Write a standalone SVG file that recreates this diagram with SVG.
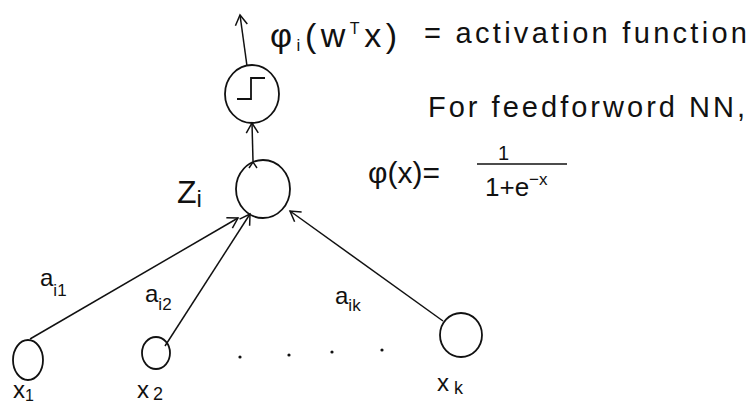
<svg xmlns="http://www.w3.org/2000/svg" width="750" height="407" viewBox="0 0 750 407">
<defs>
<style>
.n{fill:none;stroke:#111;stroke-width:1.8}
.c{fill:none;stroke:#111;stroke-width:1.5}
.t{font-family:"Liberation Sans",Arial,sans-serif;fill:#111}
</style>
<marker id="ah" markerWidth="14" markerHeight="14" refX="12" refY="7" orient="auto" markerUnits="userSpaceOnUse">
<path d="M2,1 L12,7 L2,13" fill="none" stroke="#111" stroke-width="1.5"/>
</marker>
</defs>
<rect width="750" height="407" fill="#fff"/>
<g id="connectors">
<line class="c" x1="247" y1="66" x2="240" y2="15" marker-end="url(#ah)"/>
<line class="c" x1="253" y1="161" x2="252" y2="123" marker-end="url(#ah)"/>
<path class="c" d="M249,168 L253,162 L257,168"/>
<line class="c" x1="30" y1="339" x2="238" y2="218" marker-end="url(#ah)"/>
<line class="c" x1="165" y1="346" x2="250" y2="214" marker-end="url(#ah)"/>
<line class="c" x1="443" y1="321" x2="290" y2="211" marker-end="url(#ah)"/>
</g>
<g id="node-activation">
<ellipse class="n" cx="252" cy="94" rx="27" ry="29"/>
<path class="n" d="M237,99 H251 V78 H265"/>
</g>
<g id="node-z">
<ellipse class="n" cx="263" cy="189" rx="27" ry="29"/>
<text class="t" x="177" y="203" font-size="32">Z<tspan font-size="24" dy="4">i</tspan></text>
</g>
<g id="node-x1">
<ellipse class="n" cx="28" cy="360" rx="15" ry="20"/>
<text class="t" x="13" y="398" font-size="24">x<tspan font-size="16" dy="3">1</tspan></text>
</g>
<g id="node-x2">
<ellipse class="n" cx="156" cy="353" rx="14" ry="16"/>
<text class="t" x="137" y="398" font-size="24">x<tspan font-size="18" dy="2" dx="4">2</tspan></text>
</g>
<g id="node-xk">
<ellipse class="n" cx="461" cy="335" rx="21" ry="22"/>
<text class="t" x="437" y="391" font-size="24">x<tspan font-size="18" dy="3" dx="5">k</tspan></text>
</g>
<g id="dots" fill="#111">
<circle cx="240" cy="357" r="1.6"/>
<circle cx="289" cy="355" r="1.6"/>
<circle cx="332" cy="352" r="1.6"/>
<circle cx="382" cy="350" r="1.6"/>
</g>
<g id="weights">
<text class="t" x="40" y="286" font-size="24">a<tspan font-size="17" dy="10">i1</tspan></text>
<text class="t" x="145" y="302" font-size="24">a<tspan font-size="17" dy="8">i2</tspan></text>
<text class="t" x="335" y="304" font-size="24">a<tspan font-size="17" dy="7">ik</tspan></text>
</g>
<g id="notes">
<text class="t" x="270" y="47" font-size="34" textLength="127" lengthAdjust="spacing">φ<tspan font-size="17" dy="4">i</tspan><tspan dy="-4">(w</tspan><tspan font-size="16" dy="-13">T</tspan><tspan dy="13">x)</tspan></text>
<text class="t" x="424" y="43" font-size="29" textLength="323" lengthAdjust="spacing">= activation function</text>
<text class="t" x="428" y="117" font-size="29" textLength="317" lengthAdjust="spacing">For feedforword NN,</text>
<text class="t" x="368" y="183" font-size="30">φ(x)=</text>
<line class="c" x1="477" y1="164" x2="567" y2="164"/>
<text class="t" x="498" y="160" font-size="20">1</text>
<text class="t" x="485" y="196" font-size="26">1+e<tspan font-size="17" dy="-11">−x</tspan></text>
</g>
</svg>
